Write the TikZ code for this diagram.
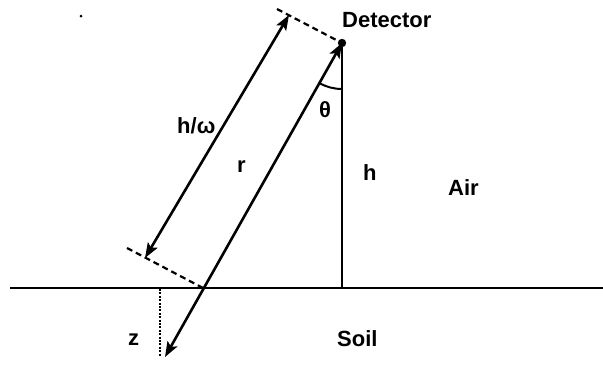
\documentclass[tikz,border=0pt]{standalone}
\usepackage{fontspec}
\setmainfont{Liberation Sans}
\usetikzlibrary{arrows.meta}
\begin{document}
\begin{tikzpicture}[x=1pt,y=-1pt,
  lbl/.style={anchor=base west,inner sep=0pt,font=\fontsize{22}{26}\selectfont\bfseries},
  thick line/.style={line width=2.6pt},
  darr/.style={thick line,{Stealth[length=15pt,width=11pt,inset=3pt]}-{Stealth[length=15pt,width=11pt,inset=3pt]}},
  dashline/.style={line width=2.2pt,dash pattern=on 6pt off 4pt},
  dotline/.style={line width=2.2pt,dash pattern=on 2pt off 1.4pt}]
\useasboundingbox (0,0) rectangle (603,365);
% key points
\coordinate (D) at (342,43);
\coordinate (G) at (203,288);
\coordinate (F) at (342,288);
\coordinate (E) at (165,357);
\coordinate (GL) at (10,288);
\coordinate (GR) at (603,288);
\coordinate (TD) at (277,9);
\coordinate (BD) at (127,248);
\coordinate (HT) at (289,15);
\coordinate (HB) at (145,258);
\coordinate (ZT) at (160,289);
\coordinate (ZB) at (160,356);
% ground
\draw[line width=2.6pt] (GL) -- (GR);
% vertical h
\draw[thick line] (D) -- (F);
% ray r
\draw[darr] (E) -- (D);
% dashed perpendiculars
\draw[dashline] (TD) -- (D);
\draw[dashline] (BD) -- (G);
% h/omega arrow
\draw[darr] (HB) -- (HT);
% depth z
\draw[dotline] (ZT) -- (ZB);
% detector dot
\fill (D) circle (4.2pt);
% angle arc
\draw[line width=2pt] (D) ++(90:46) arc[start angle=90,end angle=119.6,radius=46];
% speck
\fill (81,16) circle (1.5pt);
% labels
\node[lbl] (det) at (342,27) {Detector};
\node[lbl] (air) at (448,195) {Air};
\node[lbl] (soil) at (337,346) {Soil};
\node[lbl] (z) at (128,345) {z};
\node[lbl] (h) at (363,180) {h};
\node[lbl] (r) at (237,172) {r};
\node[lbl] (hw) at (177,133) {h/ω};
\node[lbl] (th) at (319,117) {θ};
\end{tikzpicture}
\end{document}
